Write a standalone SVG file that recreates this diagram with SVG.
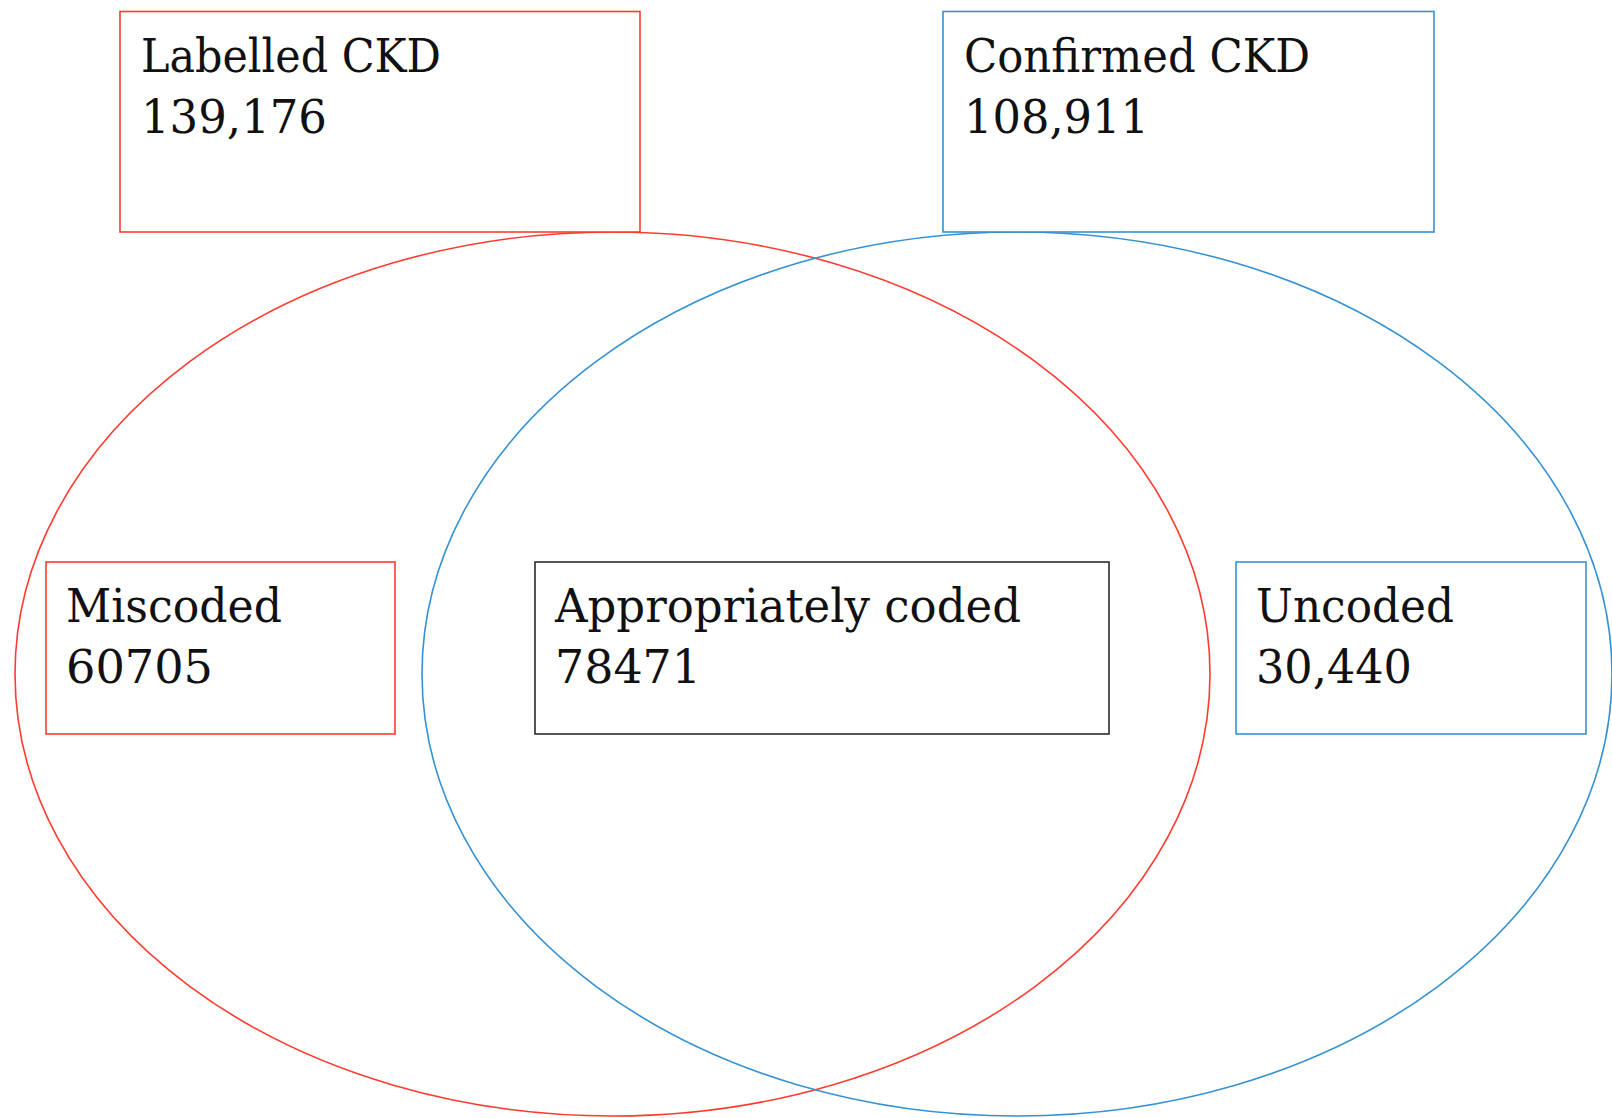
<svg xmlns="http://www.w3.org/2000/svg" width="1612" height="1118" viewBox="0 0 1612 1118">
<style>
  .bg { fill: #ffffff; }
  .set { fill: none; stroke-width: 1.6; }
  .red { stroke: #ff3b2f; }
  .blue { stroke: #3492d4; }
  .dark { stroke: #2b2b2b; }
  .box { fill: #ffffff; stroke-width: 1.6; }
  .lbl { font-family: "DejaVu Serif", "Liberation Serif", serif; font-size: 46px; fill: #111111; }
</style>
<rect class="bg" x="0" y="0" width="1612" height="1118"/>
<g id="set-labelled">
  <ellipse class="set red" cx="612.5" cy="674" rx="597.5" ry="442"/>
</g>
<g id="set-confirmed">
  <ellipse class="set blue" cx="1017" cy="674" rx="595" ry="442"/>
</g>
<g id="node-labelled">
  <rect class="box red" x="120" y="11.5" width="520" height="220.5"/>
  <text class="lbl" x="141" y="72" textLength="300" lengthAdjust="spacingAndGlyphs">Labelled CKD</text>
  <text class="lbl" x="141" y="133" textLength="186" lengthAdjust="spacingAndGlyphs">139,176</text>
</g>
<g id="node-confirmed">
  <rect class="box blue" x="943" y="11.5" width="491" height="220.5"/>
  <text class="lbl" x="964" y="72" textLength="346" lengthAdjust="spacingAndGlyphs">Confirmed CKD</text>
  <text class="lbl" x="964" y="133" textLength="185" lengthAdjust="spacingAndGlyphs">108,911</text>
</g>
<g id="node-miscoded">
  <rect class="box red" x="46" y="562" width="349" height="172"/>
  <text class="lbl" x="66" y="622" textLength="216" lengthAdjust="spacingAndGlyphs">Miscoded</text>
  <text class="lbl" x="66" y="683" textLength="147" lengthAdjust="spacingAndGlyphs">60705</text>
</g>
<g id="node-appropriate">
  <rect class="box dark" x="535" y="562" width="574" height="172"/>
  <text class="lbl" x="555" y="622" textLength="466" lengthAdjust="spacingAndGlyphs">Appropriately coded</text>
  <text class="lbl" x="555" y="683" textLength="146" lengthAdjust="spacingAndGlyphs">78471</text>
</g>
<g id="node-uncoded">
  <rect class="box blue" x="1236" y="562" width="350" height="172"/>
  <text class="lbl" x="1256" y="622" textLength="198" lengthAdjust="spacingAndGlyphs">Uncoded</text>
  <text class="lbl" x="1256" y="683" textLength="156" lengthAdjust="spacingAndGlyphs">30,440</text>
</g>
<g id="connectors"></g>
</svg>
